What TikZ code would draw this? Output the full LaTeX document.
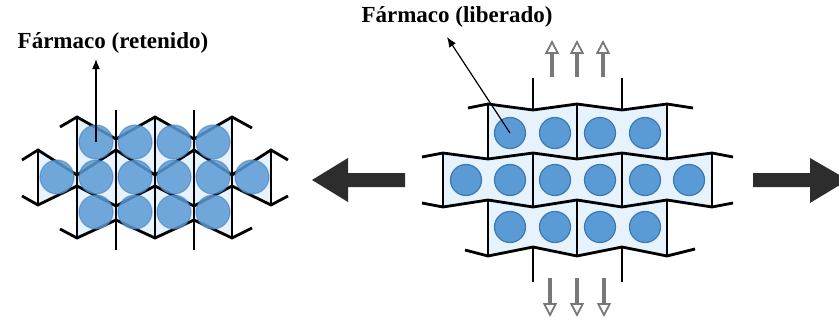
\documentclass[tikz,border=0pt]{standalone}
\usepackage{fontspec}
\setmainfont{Liberation Serif}
\usetikzlibrary{
  arrows.meta,positioning
}

\definecolor{beadblue}{RGB}{91,155,213}
\definecolor{beadedge}{RGB}{62,120,180}
\definecolor{cellblue}{RGB}{230,242,252}
\definecolor{bigarrow}{RGB}{45,45,45}
\definecolor{flowgray}{RGB}{120,120,120}

\tikzset{
  strand/.style={black,line width=2.8pt,line join=miter},
  bead/.style={circle,minimum size=31pt,inner sep=0pt,fill=beadblue,draw=beadedge,line width=1.2pt},
  tag/.style={font=\bfseries\fontsize{23}{26}\selectfont,inner sep=2pt},
  pointer/.style={line width=1.2pt,-{Latex[length=10pt,width=8pt]}},
  flow/.style={flowgray,line width=4.5pt,-{Triangle[open,line width=1.8pt,length=14pt,width=14pt]}}
}

\begin{document}
\begin{tikzpicture}[x=1pt,y=-1pt]
\useasboundingbox (0,0) rectangle (839,321);
\clip (0,0) rectangle (839,321);

% collapsed network
\fill[cellblue] (77,117) -- (116,139) -- (155,117) -- (194,139) -- (232,117) -- (232,175) -- (271,150) -- (271,205) -- (232,186) -- (232,238) -- (194,220) -- (155,238) -- (116,220) -- (77,238) -- (77,186) -- (38,205) -- (38,150) -- (77,175) -- cycle;
\draw[strand] (60,127) -- (77,117) -- (116,139) -- (155,117) -- (194,139) -- (232,117) -- (252,128);
\draw[strand] (22,160) -- (38,150) -- (77,175) -- (116,150) -- (155,175) -- (194,150) -- (232,175) -- (271,150) -- (288,160);
\draw[strand] (22,196) -- (38,205) -- (77,186) -- (116,206) -- (155,186) -- (194,206) -- (232,186) -- (271,205) -- (288,196);
\draw[strand] (60,229) -- (77,238) -- (116,220) -- (155,238) -- (194,220) -- (232,238) -- (252,228);
\draw[strand] (77,117) -- (77,238) (155,117) -- (155,238) (232,117) -- (232,238);
\draw[strand] (38,150) -- (38,205) (271,150) -- (271,205);
\draw[strand] (116,110) -- (116,250) (194,110) -- (194,250);

\begin{scope}[every node/.style={bead,minimum size=34pt,fill opacity=0.85,draw opacity=0.5}]
\node (ret-a1) at (96,142) {};
\node (ret-a2) at (135,142) {};
\node (ret-a3) at (174,142) {};
\node (ret-a4) at (213,142) {};
\node (ret-b1) at (57,177) {};
\node (ret-b2) at (96,177) {};
\node (ret-b3) at (135,177) {};
\node (ret-b4) at (174,177) {};
\node (ret-b5) at (213,177) {};
\node (ret-b6) at (252,177) {};
\node (ret-c1) at (96,212) {};
\node (ret-c2) at (135,212) {};
\node (ret-c3) at (174,212) {};
\node (ret-c4) at (213,212) {};
\end{scope}

% swollen network
\fill[cellblue] (488,104) -- (533,110) -- (577,104) -- (622,110) -- (667,104) -- (667,159) -- (712,153) -- (712,207) -- (667,200) -- (667,256) -- (622,247) -- (577,256) -- (533,247) -- (488,256) -- (488,200) -- (443,207) -- (443,153) -- (488,159) -- cycle;
\draw[strand] (468,108) -- (488,104) -- (533,110) -- (577,104) -- (622,110) -- (667,104) -- (693,108);
\draw[strand] (422,157) -- (443,153) -- (488,159) -- (533,153) -- (577,159) -- (622,153) -- (667,159) -- (712,153) -- (733,157);
\draw[strand] (422,203) -- (443,207) -- (488,200) -- (533,207) -- (577,200) -- (622,207) -- (667,200) -- (712,207) -- (733,203);
\draw[strand] (465,250) -- (488,256) -- (533,247) -- (577,256) -- (622,247) -- (667,256) -- (695,249);
\draw[strand] (488,104) -- (488,159) (577,104) -- (577,159) (667,104) -- (667,159);
\draw[strand] (443,153) -- (443,207) (533,153) -- (533,207) (622,153) -- (622,207) (712,153) -- (712,207);
\draw[strand] (488,200) -- (488,256) (577,200) -- (577,256) (667,200) -- (667,256);
\draw[strand] (533,78) -- (533,110) (622,78) -- (622,110);
\draw[strand] (533,247) -- (533,282) (622,247) -- (622,282);

\node[bead] (lib-a1) at (510,133) {};
\node[bead] (lib-a2) at (555,133) {};
\node[bead] (lib-a3) at (600,133) {};
\node[bead] (lib-a4) at (645,133) {};
\node[bead] (lib-b1) at (466,180) {};
\node[bead] (lib-b2) at (510,180) {};
\node[bead] (lib-b3) at (555,180) {};
\node[bead] (lib-b4) at (600,180) {};
\node[bead] (lib-b5) at (645,180) {};
\node[bead] (lib-b6) at (689,180) {};
\node[bead] (lib-c1) at (510,227) {};
\node[bead] (lib-c2) at (555,227) {};
\node[bead] (lib-c3) at (600,227) {};
\node[bead] (lib-c4) at (645,227) {};

% drug leaving the gel
\draw[flow] (552,77) -- (552,40);
\draw[flow] (577,77) -- (577,40);
\draw[flow] (603,77) -- (603,40);
\draw[flow] (550,278) -- (550,317);
\draw[flow] (577,278) -- (577,317);
\draw[flow] (604,278) -- (604,317);

% big arrows
\fill[bigarrow] (405,173) -- (348,173) -- (348,158) -- (312,180) -- (348,202) -- (348,187) -- (405,187) -- cycle;
\fill[bigarrow] (753,173) -- (810,173) -- (810,158) -- (848,180) -- (810,203) -- (810,187) -- (753,187) -- cycle;

% labels
\node[tag,anchor=base] (retenido) at (113,49) {Fármaco (retenido)};
\node[tag,anchor=base] (liberado) at (457,23) {Fármaco (liberado)};
\coordinate (libtip) at (447,37);
\draw[pointer,shorten >=3pt] (ret-a1.center) -- (ret-a1.center |- retenido.south);
\draw[pointer] (lib-a1.center) -- (libtip);
\end{tikzpicture}
\end{document}
